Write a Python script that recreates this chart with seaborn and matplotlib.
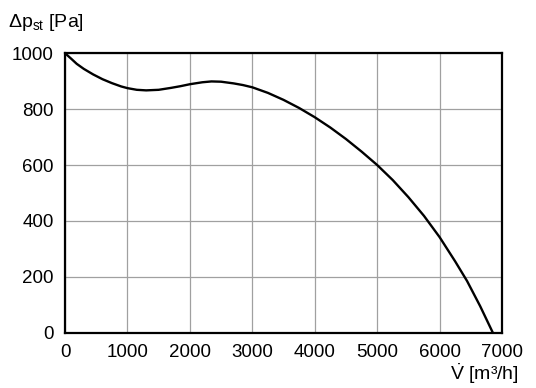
import matplotlib
matplotlib.use("Agg")
import matplotlib.pyplot as plt
import seaborn as sns
import pandas as pd

# fan curve (flow in m3/h, static pressure in Pa)
flow = [0, 100, 187, 300, 451, 600, 750, 900, 1000, 1150, 1300, 1500, 1700,
        1850, 2000, 2200, 2346, 2500, 2700, 2850, 3000, 3250, 3500, 3750,
        4000, 4250, 4500, 4750, 5000, 5250, 5500, 5750, 6000, 6250, 6440,
        6650, 6853]
pressure = [1000, 980, 962, 944, 924, 907, 893, 881, 875, 869, 867, 869, 876,
            882, 889, 896, 899, 898, 892, 886, 878, 858, 833, 804,
            771, 734, 693, 648, 600, 546, 485, 418, 342, 255, 185,
            95, 0]
x_ticks = [0, 1000, 2000, 3000, 4000, 5000, 6000, 7000]
y_ticks = [0, 200, 400, 600, 800, 1000]

sns.set_style("white")
plt.rcParams["font.family"] = ["Liberation Sans", "DejaVu Sans"]
plt.rcParams["mathtext.fontset"] = "custom"
plt.rcParams["mathtext.rm"] = "Liberation Sans"
plt.rcParams["mathtext.it"] = "Liberation Sans"
plt.rcParams["text.color"] = "black"

df = pd.DataFrame({"flow": flow, "pressure": pressure})

fig = plt.figure(figsize=(5.36, 3.88), dpi=100)
ax = fig.add_axes([0.1213, 0.1425, 0.8153, 0.7204])
sns.lineplot(data=df, x="flow", y="pressure", ax=ax, color="black",
             linewidth=1.7, sort=False)

ax.set_xlim(0, 7000)
ax.set_ylim(0, 1000)
ax.set_xticks(x_ticks)
ax.set_yticks(y_ticks)
ax.grid(True, color="#a0a0a0", linewidth=0.9)
ax.tick_params(length=0, labelsize=13.5, colors="black", pad=8)
for s in ax.spines.values():
    s.set_color("black")
    s.set_linewidth(1.6)
ax.set_xlabel("")
ax.set_ylabel("")

fig.text(0.014, 0.943, r"$\Delta$p$_{\mathrm{st}}$ [Pa]", fontsize=14,
         ha="left", va="center", color="black")
fig.text(0.968, 0.038, r"$\dot{\mathrm{V}}$ [m³/h]", fontsize=14,
         ha="right", va="center", color="black")

fig.savefig("out.png", dpi=100)
